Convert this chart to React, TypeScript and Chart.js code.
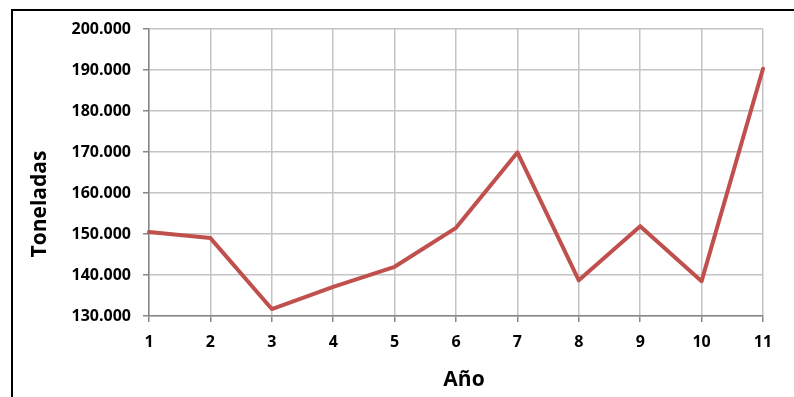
import React, { useEffect, useRef } from "react";
import { Chart, registerables } from "chart.js";

Chart.register(...registerables);

// Annual tonnage series
const years: string[] = ["1", "2", "3", "4", "5", "6", "7", "8", "9", "10", "11"];
const toneladas: number[] = [150500, 149000, 131700, 137100, 142000, 151500, 169900, 138700, 151900, 138500, 190300];

// Value axis range and step
const yMin = 130000;
const yMax = 200000;
const yStep = 10000;

const yTitle = "Toneladas";
const xTitle = "Año";

const FONT = "'Open Sans', 'Liberation Sans', sans-serif";

// Thousands separated with a dot: 130000 -> "130.000"
function formatMiles(v: number): string {
  return String(Math.round(v)).replace(/\B(?=(\d{3})+(?!\d))/g, ".");
}

// Draws both axis titles in bold
const axisTitles = {
  id: "axisTitles",
  afterDraw(chart: Chart) {
    const ctx = chart.ctx;
    const area = chart.chartArea;
    ctx.save();
    ctx.fillStyle = "#000";
    ctx.font = `bold 21px ${FONT}`;
    ctx.textAlign = "center";
    ctx.textBaseline = "middle";
    ctx.translate(area.left - 109, area.top + 175);
    ctx.rotate(-Math.PI / 2);
    ctx.fillText(yTitle, 0, 0);
    ctx.restore();

    ctx.save();
    ctx.fillStyle = "#000";
    ctx.font = `bold 21px ${FONT}`;
    ctx.textAlign = "center";
    ctx.textBaseline = "middle";
    ctx.fillText(xTitle, (area.left + area.right) / 2 + 8, area.bottom + 64);
    ctx.restore();
  },
};

export default function App() {
  const canvasRef = useRef<HTMLCanvasElement | null>(null);

  useEffect(() => {
    if (!canvasRef.current) return;
    const chart = new Chart(canvasRef.current, {
      type: "line",
      data: {
        labels: years,
        datasets: [
          {
            data: toneladas,
            borderColor: "#C0504D",
            backgroundColor: "#C0504D",
            borderWidth: 4,
            pointRadius: 0,
            tension: 0,
            borderJoinStyle: "round",
            borderCapStyle: "round",
          },
        ],
      },
      options: {
        responsive: false,
        animation: false,
        layout: { padding: { left: 0, right: 31, top: 29, bottom: 0 } },
        plugins: {
          legend: { display: false },
          tooltip: { enabled: false },
          title: { display: false },
        },
        scales: {
          x: {
            offset: false,
            afterFit(scale: any) {
              scale.height = 81;
            },
            grid: {
              color: "#c4c4c4",
              lineWidth: 1.5,
              tickLength: 6,
              tickColor: "#868686",
              drawTicks: true,
            },
            border: { color: "#868686", width: 1.5 },
            ticks: {
              color: "#000",
              font: { family: FONT, size: 16, weight: "bold" },
              padding: 11,
              maxRotation: 0,
              autoSkip: false,
            },
          },
          y: {
            min: yMin,
            max: yMax,
            afterFit(scale: any) {
              scale.width = 149;
            },
            grid: {
              color: "#c4c4c4",
              lineWidth: 1.5,
              tickLength: 6,
              tickColor: "#868686",
            },
            border: { color: "#868686", width: 1.5 },
            ticks: {
              stepSize: yStep,
              color: "#000",
              font: { family: FONT, size: 16, weight: "bold" },
              padding: 12,
              callback: (v: any) => formatMiles(Number(v)),
            },
          },
        },
      },
      plugins: [axisTitles],
    });
    return () => chart.destroy();
  }, []);

  return (
    <div style={{ position: "fixed", left: 0, top: 0, width: 794, height: 397, background: "#fff" }}>
      <canvas ref={canvasRef} width={794} height={397} style={{ position: "absolute", left: 0, top: 0 }} />
      <div
        style={{
          position: "absolute",
          left: 11,
          top: 9,
          width: 794 - 13,
          height: 397 - 11,
          borderLeft: "2px solid #000",
          borderTop: "2px solid #000",
          pointerEvents: "none",
        }}
      />
    </div>
  );
}
